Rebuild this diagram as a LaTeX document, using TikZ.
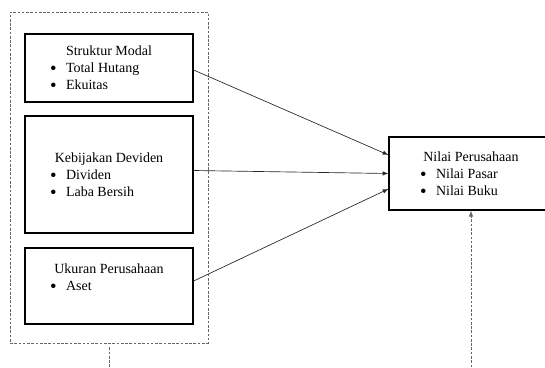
\documentclass[tikz,border=0pt]{standalone}
\usepackage{fontspec}
\setmainfont{Liberation Serif}
\usetikzlibrary{arrows}
\newcommand{\titik}{\smash{\raisebox{-1.3pt}{\fontsize{14}{14}\selectfont\textbullet}}}
\newcommand{\butir}[2][5.75pt]{\makebox[100pt][l]{\hspace*{#1}\makebox[12pt][l]{\titik}#2}}
\tikzset{
  varbox/.style={draw, line width=0.9pt, minimum width=126pt, inner sep=0pt, align=center,
                 font=\fontsize{10.5}{12.75}\selectfont},
  panah/.style={-latex, line width=0.5pt, black!85},
  garisputus/.style={black!60, line width=0.6pt, dash pattern=on 2pt off 1.2pt}
}
\begin{document}
\begin{tikzpicture}[x=0.75pt,y=-0.75pt]
            \clip (0,0) rectangle (545,367);
            \node[garisputus, draw, minimum width=148.5pt, minimum height=248.25pt, inner sep=0pt] (kelompok) at (109,177.5) {};
            \node[varbox, minimum height=51pt]    (modal)   at (109,68)    {Struktur Modal\\ \butir{Total Hutang}\\ \butir{Ekuitas}};
            \node[varbox, minimum height=87.75pt] (dividen) at (109,174.5) {Kebijakan Deviden\\ \butir{Dividen}\\ \butir{Laba Bersih}};
            \node[varbox, minimum height=57pt]    (ukuran)  at (109,286)   {Ukuran Perusahaan\\ \butir{Aset}\\ \mbox{}};
            \node[varbox, minimum width=123pt, minimum height=54.75pt] (nilai) at (471,173.5)
                 {Nilai Perusahaan\\ \butir[11.75pt]{Nilai Pasar}\\ \butir[11.75pt]{Nilai Buku}};
            \coordinate (bawahkiri)  at (109,380);
            \coordinate (bawahkanan) at (471,380);
            \draw[panah] ([yshift=-1.5pt]modal.east)  -- ([yshift=13.9pt]nilai.west);
            \draw[panah] ([yshift=3pt]dividen.east)   -- (nilai.west);
            \draw[panah] ([yshift=3.75pt]ukuran.east) -- ([yshift=-11.6pt]nilai.west);
            \draw[garisputus] ([yshift=-3pt]kelompok.south) -- (bawahkiri);
            \draw[garisputus, -latex] (bawahkanan) -- (nilai.south);
        \end{tikzpicture}
\end{document}
